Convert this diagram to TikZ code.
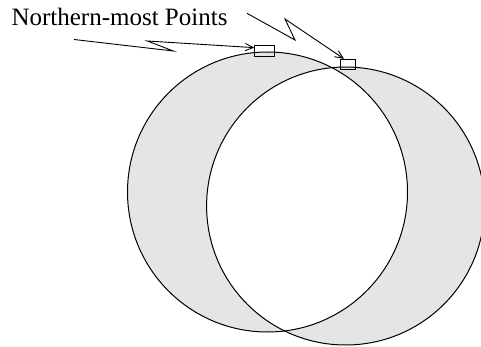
\documentclass[tikz,border=0pt]{standalone}
\usepackage{fontspec}
\setmainfont{Liberation Serif}
\usetikzlibrary{arrows.meta}
\definecolor{discgray}{HTML}{E5E5E5}

\begin{document}
\begin{tikzpicture}[
			x=0.5pt, y=-0.5pt,
			>={Straight Barb[length=4pt,width=3.6pt]},
			line width=0.5pt,
			marker/.style={
				draw,
				rectangle,
				inner sep=0pt
			},
			pointer/.style={->, line width=0.45pt}
			]
			
			\useasboundingbox (0,0) rectangle (481,347);
			
			%--------------------------------------------------
			% Circles
			%--------------------------------------------------
			
			\begin{scope}
				\clip (0,0) rectangle (481,347);
				\fill[discgray, even odd rule]
				(267.5,192) circle[radius=140]
				(345.6,206) circle[radius=139];
				\draw (267.5,192) circle[radius=140];
				\draw (345.6,206) circle[radius=139];
			\end{scope}
			
			%--------------------------------------------------
			% Points and label
			%--------------------------------------------------
			
			\node (lpt) [marker, minimum width=9.8pt, minimum height=5.6pt] at (264.6,51) {};
			
			\node (rpt) [marker, minimum width=7.8pt, minimum height=5pt] at (347.8,64.3) {};
			
			\node (label) [anchor=base west, inner sep=0pt, font=\fontsize{12.5}{14}\selectfont] at (11,25.7) {Northern-most Points};
			
			%--------------------------------------------------
			% Pointers
			%--------------------------------------------------
			
			\coordinate (ltail) at (74,39.5);
			\coordinate (lbend1) at (173.3,51);
			\coordinate (lbend2) at (147.3,41);
			
			\coordinate (rtail) at (247,13.3);
			\coordinate (rbend1) at (295,40);
			\coordinate (rbend2) at (285,19);
			
			\draw[pointer] (ltail) -- (lbend1) -- (lbend2) -- (lpt.162);
			
			\draw[pointer] (rtail) -- (rbend1) -- (rbend2) -- (rpt.125);
			
		\end{tikzpicture}
\end{document}
